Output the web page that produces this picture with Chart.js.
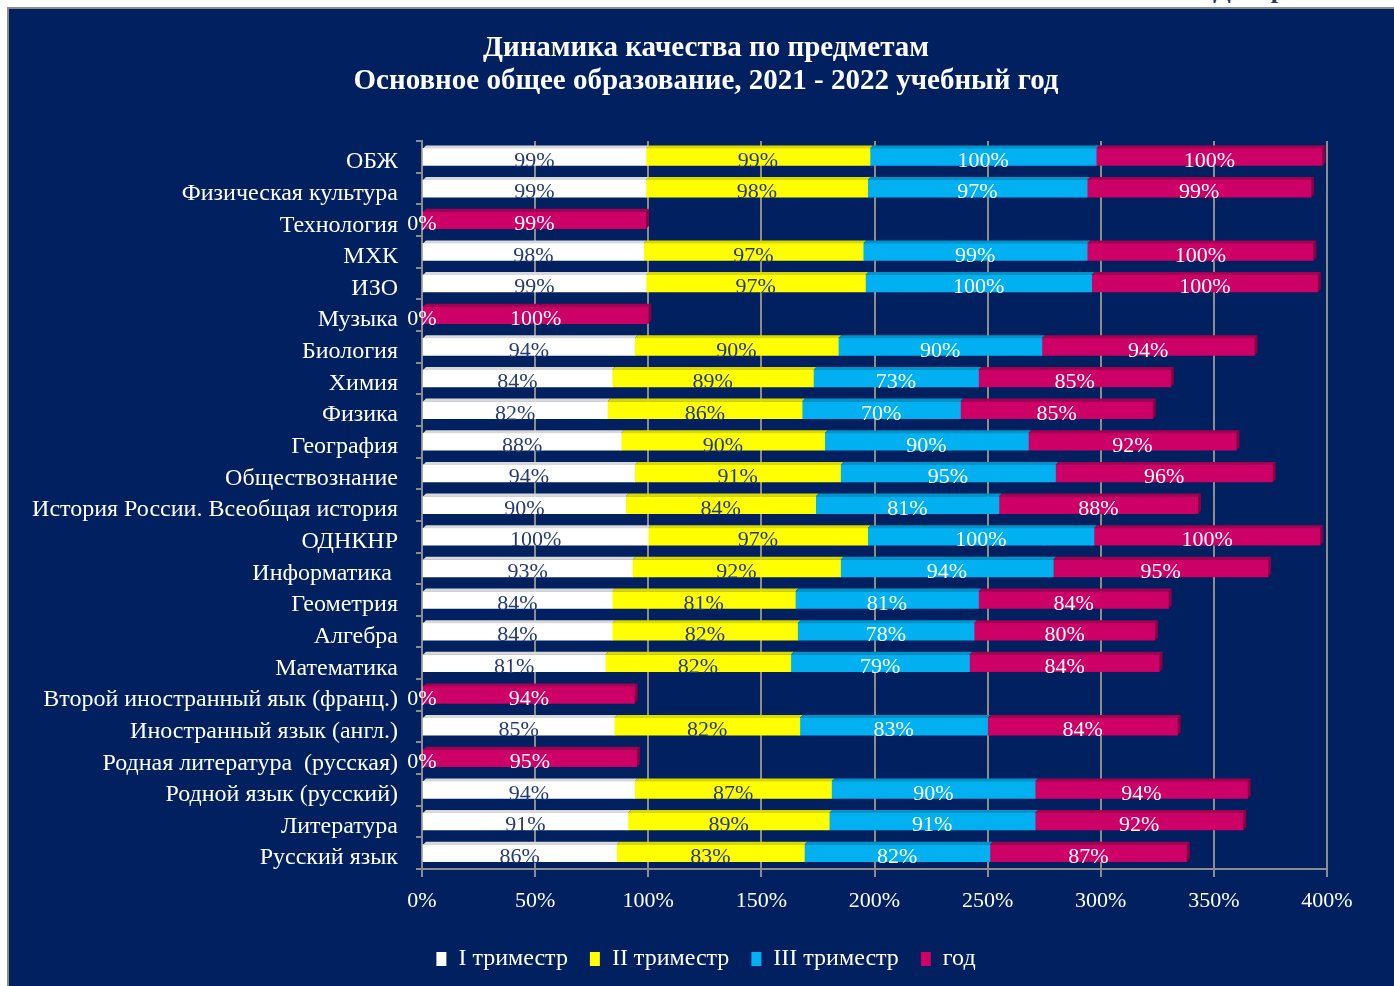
<!DOCTYPE html>
<html>
<head>
<meta charset="utf-8">
<script src="https://cdn.jsdelivr.net/npm/chart.js@4"></script>
<style>
  html, body { margin: 0; padding: 0; background: #fff; overflow: hidden; }
  #frame { position: absolute; left: 7px; top: 7px; width: 1400px; height: 990px;
           background: #002060; border-left: 2px solid #8c8c8c; border-top: 2px solid #8c8c8c; }
  #cap { position: absolute; left: 1213px; top: -25px; font: bold 26px 'Liberation Serif', serif; color: #1f3864; }
  #wrap { position: absolute; left: 0; top: 0; width: 1412px; height: 986px; }
</style>
</head>
<body>
<div id="cap">Диаграмма</div>
<div id="frame"></div>
<div id="wrap"><canvas id="graph"></canvas></div>
<script>
var predmety = ['ОБЖ', 'Физическая культура', 'Технология', 'МХК', 'ИЗО', 'Музыка', 'Биология',
  'Химия', 'Физика', 'География', 'Обществознание', 'История России. Всеобщая история', 'ОДНКНР',
  'Информатика ', 'Геометрия', 'Алгебра', 'Математика', 'Второй иностранный яык (франц.)',
  'Иностранный язык (англ.)', 'Родная литература  (русская)', 'Родной язык (русский)', 'Литература', 'Русский язык'];

var trim1 = [99, 99, 0, 98, 99, 0, 94, 84, 82, 88, 94, 90, 100, 93, 84, 84, 81, 0, 85, 0, 94, 91, 86];
var trim2 = [99, 98, null, 97, 97, null, 90, 89, 86, 90, 91, 84, 97, 92, 81, 82, 82, null, 82, null, 87, 89, 83];
var trim3 = [100, 97, null, 99, 100, null, 90, 73, 70, 90, 95, 81, 100, 94, 81, 78, 79, null, 83, null, 90, 91, 82];
var god = [100, 99, 99, 100, 100, 100, 94, 85, 85, 92, 96, 88, 100, 95, 84, 80, 84, 94, 84, 95, 94, 92, 87];

var seriesNames = ['I триместр', 'II триместр', 'III триместр', 'год'];
var xTicks = [0, 50, 100, 150, 200, 250, 300, 350, 400];

var couleurs = ['#ffffff', '#ffff00', '#00b0f0', '#cc0066'];
var faces = ['#d9d9d9', '#d9d900', '#0093c8', '#a30052'];
var couleursTexte = ['#253a76', '#253a76', '#ffffff', '#ffffff'];

var serif = "'Liberation Serif', 'Times New Roman', serif";

// petit relief 3D + etiquettes de valeur
var etiquettes = {
  id: 'etiquettes',
  afterDatasetsDraw: function (chart) {
    var ctx = chart.ctx;
    ctx.save();
    chart.data.datasets.forEach(function (ds, i) {
      var meta = chart.getDatasetMeta(i);
      meta.data.forEach(function (bar, j) {
        var v = ds.data[j];
        if (!v) return;
        var top = bar.y - bar.height / 2, bot = bar.y + bar.height / 2;
        ctx.fillStyle = faces[i];
        ctx.beginPath();
        ctx.moveTo(bar.base, top);
        ctx.lineTo(bar.base + 3, top - 3);
        ctx.lineTo(bar.x + 3, top - 3);
        ctx.lineTo(bar.x, top);
        ctx.closePath();
        ctx.fill();
        if (i === 3) {
          ctx.fillStyle = '#8a0045';
          ctx.beginPath();
          ctx.moveTo(bar.x, top);
          ctx.lineTo(bar.x + 3, top - 3);
          ctx.lineTo(bar.x + 3, bot - 3);
          ctx.lineTo(bar.x, bot);
          ctx.closePath();
          ctx.fill();
        }
      });
    });
    ctx.font = '22px ' + serif;
    ctx.textAlign = 'center';
    ctx.textBaseline = 'middle';
    chart.data.datasets.forEach(function (ds, i) {
      var meta = chart.getDatasetMeta(i);
      meta.data.forEach(function (bar, j) {
        var v = ds.data[j];
        if (v === null || v === undefined) return;
        ctx.fillStyle = v === 0 ? '#ffffff' : couleursTexte[i];
        ctx.fillText(v + '%', (bar.x + bar.base) / 2, bar.y + 4);
      });
    });
    ctx.restore();
  }
};

var grille = '#8c8c8c';

var config = {
  type: 'bar',
  data: {
    labels: predmety,
    datasets: [trim1, trim2, trim3, god].map(function (d, i) {
      return {
        label: seriesNames[i],
        data: d,
        backgroundColor: couleurs[i],
        borderWidth: 0,
        barThickness: 17
      };
    })
  },
  options: {
    indexAxis: 'y',
    responsive: true,
    maintainAspectRatio: false,
    animation: false,
    layout: { padding: { left: 0, right: 0, top: 2, bottom: 5 } },
    scales: {
      x: {
        stacked: true,
        min: 0,
        max: 400,
        afterBuildTicks: function (scale) {
          scale.ticks = xTicks.map(function (v) { return { value: v }; });
        },
        afterFit: function (scale) {
          var lh = scale.chart.legend ? scale.chart.legend.height : 0;
          scale.height = 986 - 869 - lh - 5;
        },
        grid: { color: grille, lineWidth: 2, tickLength: 8, drawTicks: true },
        border: { display: true, color: grille, width: 2 },
        ticks: {
          color: '#ffffff',
          padding: 11,
          font: { family: serif, size: 22 },
          callback: function (v) { return v + '%'; }
        }
      },
      y: {
        stacked: true,
        afterFit: function (scale) { scale.width = 422; },
        grid: { display: true, drawOnChartArea: false, offset: true, color: grille, lineWidth: 2, tickLength: 6 },
        border: { display: true, color: grille, width: 2 },
        ticks: {
          color: '#ffffff',
          padding: 18,
          labelOffset: 5,
          autoSkip: false,
          font: { family: serif, size: 24 }
        }
      },
      // axe vide a droite pour centrer titre et legende comme sur l'original
      marge: {
        type: 'linear',
        position: 'right',
        display: true,
        afterFit: function (scale) { scale.width = 85; },
        grid: { display: false },
        border: { display: false },
        ticks: { display: false }
      }
    },
    plugins: {
      title: {
        display: true,
        text: ['Динамика качества по предметам', 'Основное общее образование, 2021 - 2022 учебный год'],
        color: '#ffffff',
        font: { family: serif, size: 29, weight: 'bold', lineHeight: 1.14 },
        padding: { top: 30, bottom: 43 }
      },
      legend: {
        position: 'bottom',
        labels: {
          color: '#ffffff',
          boxWidth: 10,
          boxHeight: 14,
          padding: 22,
          font: { family: serif, size: 24 }
        }
      },
      tooltip: { enabled: false }
    }
  },
  plugins: [etiquettes]
};

var graph1 = new Chart(document.getElementById('graph').getContext('2d'), config);
</script>
</body>
</html>
